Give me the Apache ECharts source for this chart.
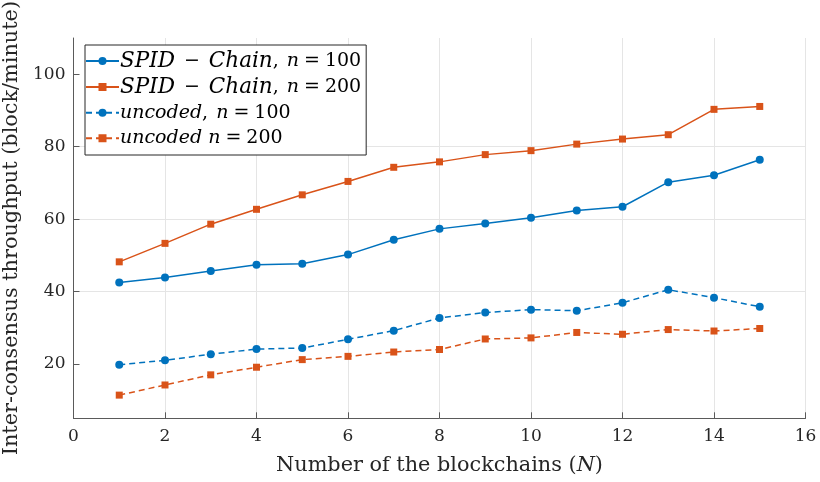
<!DOCTYPE html>
<html>
<head>
<meta charset="utf-8">
<script src="https://cdn.jsdelivr.net/npm/echarts@6/dist/echarts.min.js"></script>
<style>
  html, body { margin: 0; padding: 0; background: #ffffff; }
  #chart { width: 820px; height: 482px; }
</style>
</head>
<body>
<div id="chart"></div>
<script>
// Number of blockchains N
const blockchains = [1, 2, 3, 4, 5, 6, 7, 8, 9, 10, 11, 12, 13, 14, 15];

// Inter-consensus throughput (block/minute)
const spidChain100 = [42.5, 43.9, 45.7, 47.4, 47.7, 50.2, 54.3, 57.3, 58.8, 60.4, 62.4, 63.4, 70.2, 72.1, 76.4];
const spidChain200 = [48.2, 53.3, 58.6, 62.7, 66.7, 70.4, 74.3, 75.8, 77.8, 78.9, 80.7, 82.1, 83.3, 90.3, 91.1];
const uncoded100   = [19.8, 21.0, 22.7, 24.1, 24.4, 26.8, 29.2, 32.7, 34.2, 35.0, 34.7, 36.9, 40.5, 38.3, 35.8];
const uncoded200   = [11.4, 14.2, 17.0, 19.1, 21.2, 22.1, 23.3, 24.0, 26.9, 27.2, 28.7, 28.2, 29.5, 29.1, 29.8];

const yTickValues = [20, 40, 60, 80, 100];

const BLUE = '#0072BD';
const ORANGE = '#D95319';
const SERIF = '"DejaVu Serif", "Liberation Serif", serif';

// Legend entries typeset like math: italic symbols, upright operators and numbers
const legendLabels = {
  spid100: '{cap|SPID}{minus|−}{cap|Chain}{rm|,}{sp| }{it|n}{op|=}{rm|100}',
  spid200: '{cap|SPID}{minus|−}{cap|Chain}{rm|,}{sp| }{it|n}{op|=}{rm|200}',
  unc100:  '{it|uncoded}{rm|,}{sp| }{it|n}{op|=}{rm|100}',
  unc200:  '{it|uncoded n}{op|=}{rm|200}'
};

function pairs(values) {
  return blockchains.map((n, i) => [n, values[i]]);
}

function lineSeries(id, values, color, symbol, dashed) {
  return {
    name: id,
    type: 'line',
    data: pairs(values),
    symbol: symbol,
    symbolSize: symbol === 'circle' ? 8 : 7,
    showAllSymbol: true,
    lineStyle: { color: color, width: 1.5, type: dashed ? [6, 4] : 'solid' },
    itemStyle: { color: color },
    emphasis: { disabled: true },
    animation: false,
    z: 3
  };
}

const chart = echarts.init(document.getElementById('chart'), null, { renderer: 'canvas' });

const LF = 19;
const LH = 21.5;
const legendText = { fontFamily: SERIF, fontSize: LF, color: '#000000', lineHeight: LH };

chart.setOption({
  backgroundColor: '#ffffff',
  animation: false,
  grid: { left: 73.5, right: 14.5, top: 38, bottom: 63.7, containLabel: false, outerBoundsMode: 'none' },
  legend: {
    orient: 'vertical',
    left: 85,
    top: 45,
    backgroundColor: '#ffffff',
    borderColor: '#262626',
    borderWidth: 1,
    borderRadius: 0,
    padding: [5, 5, 6, 0],
    itemGap: 4,
    itemWidth: 33,
    itemHeight: 10,
    data: ['spid100', 'spid200', 'unc100', 'unc200'],
    formatter: name => legendLabels[name],
    textStyle: Object.assign({}, legendText, {
      padding: [0, 0, 0, -4],
      rich: {
        it: Object.assign({}, legendText, { fontStyle: 'italic' }),
        cap: Object.assign({}, legendText, { fontStyle: 'italic', fontSize: 21.5 }),
        rm: Object.assign({}, legendText),
        sp: Object.assign({}, legendText, { padding: [0, 1, 0, 1] }),
        op: Object.assign({}, legendText, { padding: [0, 5, 0, 5] }),
        minus: Object.assign({}, legendText, { padding: [0, 9, 0, 9] })
      }
    })
  },
  xAxis: {
    type: 'value',
    min: 0,
    max: 16,
    interval: 2,
    name: 'Number of the blockchains ({it|N})',
    nameLocation: 'middle',
    nameGap: 37,
    nameTextStyle: {
      fontFamily: SERIF,
      fontSize: 20.8,
      color: '#262626',
      rich: {
        it: { fontFamily: SERIF, fontStyle: 'italic', fontSize: 20.8, color: '#262626' }
      }
    },
    axisLine: { show: true, lineStyle: { color: '#5a5a5a', width: 1 } },
    axisTick: { show: true, inside: true, length: 6, lineStyle: { color: '#5a5a5a' } },
    axisLabel: { fontFamily: SERIF, fontSize: 17, color: '#262626', margin: 10 },
    splitLine: { show: true, showMinLine: false, showMaxLine: true, lineStyle: { color: '#e5e5e5', width: 1 } }
  },
  yAxis: {
    type: 'value',
    min: 5,
    max: 110,
    name: 'Inter-consensus throughput (block/minute)',
    nameLocation: 'middle',
    nameGap: 46,
    nameTextStyle: { fontFamily: SERIF, fontSize: 20.8, color: '#262626' },
    axisLine: { show: true, lineStyle: { color: '#5a5a5a', width: 1 } },
    axisTick: { show: true, inside: true, length: 6, customValues: yTickValues, lineStyle: { color: '#5a5a5a' } },
    axisLabel: { fontFamily: SERIF, fontSize: 17, color: '#262626', margin: 8, customValues: yTickValues },
    splitLine: { show: true, showMinLine: false, showMaxLine: false, lineStyle: { color: '#e5e5e5', width: 1 } }
  },
  series: [
    lineSeries('spid100', spidChain100, BLUE, 'circle', false),
    lineSeries('spid200', spidChain200, ORANGE, 'rect', false),
    lineSeries('unc100', uncoded100, BLUE, 'circle', true),
    lineSeries('unc200', uncoded200, ORANGE, 'rect', true)
  ]
});
</script>
</body>
</html>
